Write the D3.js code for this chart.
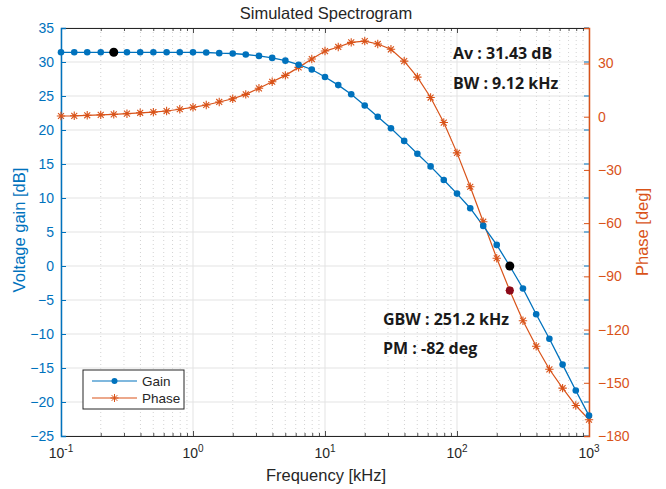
<!DOCTYPE html>
<html>
<head>
<meta charset="utf-8">
<script src="https://cdn.jsdelivr.net/npm/d3@7"></script>
<style>
  body { margin: 0; background: #fff; }
  text { font-family: "Liberation Sans", Arial, sans-serif; }
</style>
</head>
<body>
<div id="chart"></div>
<script>
// frequency points [kHz], 10 per decade
const freqs = [0.1, 0.126, 0.158, 0.2, 0.251, 0.316, 0.398, 0.501, 0.631, 0.794,
  1, 1.26, 1.58, 2, 2.51, 3.16, 3.98, 5.01, 6.31, 7.94,
  10, 12.6, 15.8, 20, 25.1, 31.6, 39.8, 50.1, 63.1, 79.4,
  100, 126, 158, 200, 251, 316, 398, 501, 631, 794, 1000];
const gainDb = [31.43, 31.43, 31.43, 31.43, 31.43, 31.43, 31.43, 31.43, 31.43, 31.43,
  31.42, 31.4, 31.3, 31.25, 31.1, 30.9, 30.6, 30.2, 29.6, 28.9,
  27.8, 26.6, 25.25, 23.6, 21.95, 20.25, 18.4, 16.5, 14.65, 12.65,
  10.65, 8.5, 5.9, 3.1, 0, -3.3, -7.1, -10.7, -14.5, -18.3, -22.0];
const phaseDeg = [0.4, 0.5, 0.8, 1.0, 1.3, 1.7, 2.2, 2.6, 3.2, 4.2,
  5.3, 6.6, 8.3, 10.1, 12.6, 16, 19.7, 23.3, 27.8, 32.5,
  37, 39.3, 41.9, 42.6, 41, 38, 31.3, 22.3, 10.8, -3.3,
  -20.4, -39.5, -59.2, -79.8, -98, -115, -129.4, -142.4, -153, -162.8, -170.8];

// highlighted points
const blackPts = [[0.251, 31.43], [251.2, 0]];
const redPts = [[251.2, -98]];

const gainTicks = [-25, -20, -15, -10, -5, 0, 5, 10, 15, 20, 25, 30, 35];
const phaseTicks = [-180, -150, -120, -90, -60, -30, 0, 30];
const decades = [0.1, 1, 10, 100, 1000];
const decadeExp = ["-1", "0", "1", "2", "3"];

const notesTop = ["Av : 31.43 dB", "BW : 9.12 kHz"];
const notesBottom = ["GBW : 251.2 kHz", "PM : -82 deg"];

const W = 666, H = 489;
const margin = {top: 28, right: 77, bottom: 53, left: 61};
const width = W - margin.left - margin.right,
      height = H - margin.top - margin.bottom;

const blue = "#0072BD", orange = "#D95319";

const svg = d3.select("#chart").append("svg")
  .attr("width", W).attr("height", H);
const g = svg.append("g")
  .attr("transform", "translate(" + margin.left + "," + margin.top + ")");

const x = d3.scaleLog().domain([0.1, 1000]).range([0, width]);
const yL = d3.scaleLinear().domain([-25, 35]).range([height, 0]);
const yR = d3.scaleLinear().domain([-180, 50]).range([height, 0]);

// minor frequencies
const minorF = [];
decades.slice(0, 4).forEach(d => {
  for (let k = 2; k <= 9; k++) minorF.push(d * k);
});

// grid
g.selectAll(".gminor").data(minorF).enter().append("line")
  .attr("x1", d => x(d)).attr("x2", d => x(d))
  .attr("y1", 0).attr("y2", height)
  .attr("stroke", "#c8c8c8").attr("stroke-width", 0.8)
  .attr("stroke-dasharray", "1,3");
g.selectAll(".gmajor").data(decades).enter().append("line")
  .attr("x1", d => x(d)).attr("x2", d => x(d))
  .attr("y1", 0).attr("y2", height)
  .attr("stroke", "#e3e3e3").attr("stroke-width", 1);
g.selectAll(".gh").data(gainTicks).enter().append("line")
  .attr("x1", 0).attr("x2", width)
  .attr("y1", d => yL(d)).attr("y2", d => yL(d))
  .attr("stroke", "#e3e3e3").attr("stroke-width", 1);

// x axes (bottom + top, inward ticks)
const xAxisB = d3.axisBottom(x).tickValues(decades).tickSize(-5).tickFormat("");
const xAxisT = d3.axisTop(x).tickValues(decades).tickSize(-5).tickFormat("");
const xMinB = d3.axisBottom(x).tickValues(minorF).tickSize(-3).tickFormat("");
const xMinT = d3.axisTop(x).tickValues(minorF).tickSize(-3).tickFormat("");
[[xAxisB, height], [xMinB, height], [xAxisT, 0], [xMinT, 0]].forEach(([ax, ty]) => {
  const a = g.append("g").attr("transform", "translate(0," + ty + ")").call(ax);
  a.selectAll("line").attr("stroke", "#262626").attr("stroke-width", 0.8);
  a.select(".domain").attr("stroke", "#262626").attr("stroke-width", 1);
});

// x tick labels with superscripts
const xl = g.selectAll(".xl").data(decades).enter().append("text")
  .attr("x", d => x(d)).attr("y", height + 22)
  .attr("text-anchor", "middle")
  .attr("fill", "#262626").style("font-size", "14px");
xl.append("tspan").text("10");
xl.append("tspan").attr("dy", -6).style("font-size", "10px")
  .text((d, i) => decadeExp[i]);

// left axis
const yAxL = g.append("g").call(d3.axisLeft(yL).tickValues(gainTicks).tickSize(-5).tickPadding(7));
yAxL.selectAll("line").attr("stroke", blue);
yAxL.select(".domain").attr("stroke", blue).attr("stroke-width", 1.5);
yAxL.selectAll("text").attr("fill", blue).style("font-size", "14px");

// small gain ticks on right side
g.selectAll(".rt").data(gainTicks).enter().append("line")
  .attr("x1", width - 5).attr("x2", width)
  .attr("y1", d => yL(d)).attr("y2", d => yL(d))
  .attr("stroke", blue).attr("stroke-width", 1);

// right axis
const yAxR = g.append("g").attr("transform", "translate(" + width + ",0)")
  .call(d3.axisRight(yR).tickValues(phaseTicks).tickSize(-5).tickPadding(9));
yAxR.selectAll("line").attr("stroke", orange);
yAxR.select(".domain").attr("stroke", orange).attr("stroke-width", 1.5);
yAxR.selectAll("text").attr("fill", orange).style("font-size", "14px");

// axis labels and title
svg.append("text").attr("x", margin.left + width / 2 + 1).attr("y", 19)
  .attr("text-anchor", "middle").attr("fill", "#262626")
  .style("font-size", "16.5px").text("Simulated Spectrogram");
svg.append("text").attr("x", margin.left + width / 2 + 1).attr("y", 481)
  .attr("text-anchor", "middle").attr("fill", "#262626")
  .style("font-size", "16.5px").text("Frequency [kHz]");
svg.append("text")
  .attr("transform", "translate(25," + (margin.top + height / 2 - 2) + ") rotate(-90)")
  .attr("text-anchor", "middle").attr("fill", blue)
  .style("font-size", "16.5px").text("Voltage gain [dB]");
svg.append("text")
  .attr("transform", "translate(648," + (margin.top + height / 2) + ") rotate(-90)")
  .attr("text-anchor", "middle").attr("fill", orange)
  .style("font-size", "16.5px").text("Phase [deg]");

// lines
const gainLine = d3.line().x((d, i) => x(freqs[i])).y(d => yL(d));
const phaseLine = d3.line().x((d, i) => x(freqs[i])).y(d => yR(d));

g.append("path").datum(phaseDeg).attr("d", phaseLine)
  .attr("fill", "none").attr("stroke", orange).attr("stroke-width", 1.2);
g.append("path").datum(gainDb).attr("d", gainLine)
  .attr("fill", "none").attr("stroke", blue).attr("stroke-width", 1.3);

function starPath(r) {
  const s = r * 0.7071;
  return "M0," + (-r) + "V" + r + "M" + (-r) + ",0H" + r +
    "M" + (-s) + "," + (-s) + "L" + s + "," + s +
    "M" + (-s) + "," + s + "L" + s + "," + (-s);
}

g.selectAll(".pm").data(phaseDeg).enter().append("path")
  .attr("transform", (d, i) => "translate(" + x(freqs[i]) + "," + yR(d) + ")")
  .attr("d", starPath(4.2))
  .attr("stroke", orange).attr("stroke-width", 1.1).attr("fill", "none");
g.selectAll(".gm").data(gainDb).enter().append("circle")
  .attr("cx", (d, i) => x(freqs[i])).attr("cy", d => yL(d))
  .attr("r", 3.3).attr("fill", blue);

g.selectAll(".bp").data(blackPts).enter().append("circle")
  .attr("cx", d => x(d[0])).attr("cy", d => yL(d[1]))
  .attr("r", 4.5).attr("fill", "#000");
g.selectAll(".rp").data(redPts).enter().append("circle")
  .attr("cx", d => x(d[0])).attr("cy", d => yR(d[1]))
  .attr("r", 4).attr("fill", "#8B0A1A");

// annotations
g.selectAll(".nt").data(notesTop).enter().append("text")
  .attr("x", 392).attr("y", (d, i) => 31 + i * 30)
  .attr("fill", "#1a1a1a")
  .style("font-family", "'Open Sans', sans-serif").style("font-weight", "bold")
  .style("font-size", "16px").text(d => d);
g.selectAll(".nb").data(notesBottom).enter().append("text")
  .attr("x", 322).attr("y", (d, i) => 297 + i * 29)
  .attr("fill", "#1a1a1a")
  .style("font-family", "'Open Sans', sans-serif").style("font-weight", "bold")
  .style("font-size", "16px").text(d => d);

// legend
const leg = g.append("g").attr("transform", "translate(22,342)");
leg.append("rect").attr("width", 101).attr("height", 39)
  .attr("fill", "#fff").attr("stroke", "#262626").attr("stroke-width", 1);
const legItems = [["Gain", blue, "dot"], ["Phase", orange, "star"]];
legItems.forEach(([name, col, mk], i) => {
  const yy = 11 + i * 17;
  leg.append("line").attr("x1", 9).attr("x2", 54).attr("y1", yy).attr("y2", yy)
    .attr("stroke", col).attr("stroke-width", 1.2);
  if (mk === "dot") {
    leg.append("circle").attr("cx", 31.5).attr("cy", yy).attr("r", 3).attr("fill", col);
  } else {
    leg.append("path").attr("transform", "translate(31.5," + yy + ")")
      .attr("d", starPath(4)).attr("stroke", col).attr("stroke-width", 1).attr("fill", "none");
  }
  leg.append("text").attr("x", 59).attr("y", yy + 5)
    .attr("fill", "#262626").style("font-size", "13.5px").text(name);
});
</script>
</body>
</html>
